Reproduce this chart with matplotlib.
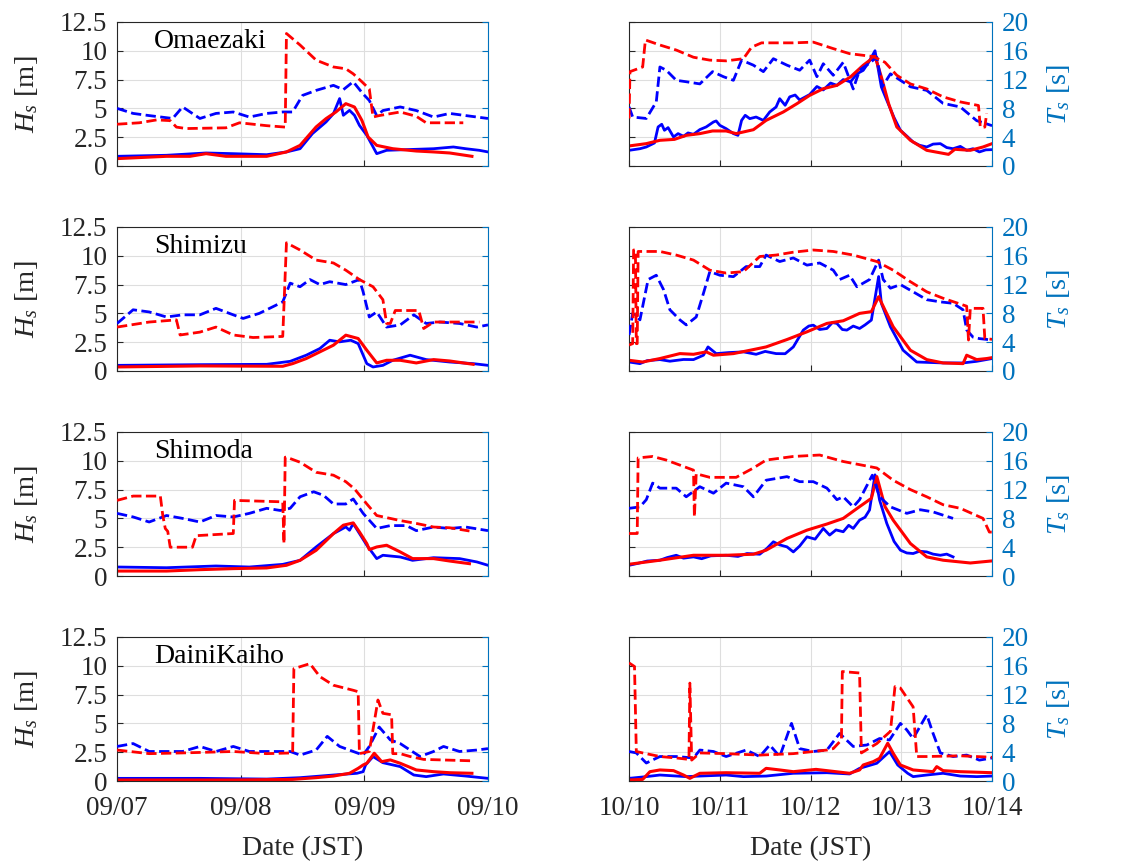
import numpy as np
import pandas as pd
import matplotlib
matplotlib.use('Agg')
import matplotlib.pyplot as plt
import matplotlib.dates as mdates

plt.rcParams['font.family'] = 'Liberation Serif'
plt.rcParams['mathtext.fontset'] = 'custom'
plt.rcParams['mathtext.rm'] = 'Liberation Serif'
plt.rcParams['mathtext.it'] = 'Liberation Serif:italic'

# --- data: time in days from the first tick, Hs in m, Ts in s ---
STATIONS = ['Omaezaki', 'Shimizu', 'Shimoda', 'DainiKaiho']
SEP_START = '2019-09-07'
OCT_START = '2019-10-10'

# Omaezaki, September
oma9_hs_obs_t = [0, 0.40, 0.72, 0.94, 1.21, 1.37, 1.48, 1.58, 1.69, 1.75, 1.80, 1.83, 1.88, 1.92, 1.96, 2.02, 2.10, 2.18, 2.34, 2.56, 2.72, 2.82, 2.93, 3.0]
oma9_hs_obs = [0.84, 0.93, 1.13, 1.07, 0.98, 1.22, 1.50, 2.81, 3.82, 4.54, 5.85, 4.40, 4.83, 4.40, 3.53, 2.66, 1.07, 1.36, 1.42, 1.50, 1.65, 1.50, 1.36, 1.22]
oma9_hs_mod_t = [0, 0.40, 0.59, 0.72, 0.88, 1.21, 1.37, 1.48, 1.61, 1.69, 1.77, 1.85, 1.92, 1.98, 2.03, 2.10, 2.23, 2.42, 2.56, 2.69, 2.87]
oma9_hs_mod = [0.64, 0.84, 0.84, 1.07, 0.84, 0.84, 1.22, 1.79, 3.39, 4.11, 4.69, 5.41, 5.12, 3.96, 2.52, 1.79, 1.50, 1.30, 1.22, 1.13, 0.84]
oma9_ts_obs_t = [0, 0.13, 0.26, 0.45, 0.53, 0.67, 0.80, 0.94, 1.07, 1.21, 1.34, 1.42, 1.50, 1.61, 1.75, 1.83, 1.91, 1.99, 2.04, 2.10, 2.15, 2.29, 2.42, 2.56, 2.69, 2.82, 3.0]
oma9_ts_obs = [8.0, 7.3, 7.0, 6.6, 8.2, 6.6, 7.3, 7.5, 6.8, 7.3, 7.5, 7.5, 9.8, 10.5, 11.2, 10.6, 11.7, 10.0, 9.1, 7.0, 7.7, 8.2, 7.7, 6.8, 7.3, 7.0, 6.6]
oma9_ts_mod_t = [0, 0.18, 0.32, 0.43, 0.48, 0.56, 0.88, 0.99, 1.21, 1.36, 1.37, 1.48, 1.61, 1.75, 1.85, 1.91, 1.98, 2.04, 2.07, 2.12, 2.29, 2.42, 2.50, 2.80]
oma9_ts_mod = [5.8, 6.0, 6.4, 6.3, 5.4, 5.2, 5.3, 6.0, 5.6, 5.4, 18.4, 16.8, 14.7, 13.75, 13.5, 12.8, 11.7, 10.7, 6.8, 7.0, 7.5, 6.9, 6.0, 6.0]

# Omaezaki, October
oma10_hs_obs_t = [0, 0.12, 0.19, 0.28, 0.32, 0.36, 0.39, 0.43, 0.49, 0.54, 0.60, 0.65, 0.71, 0.78, 0.85, 0.93, 0.96, 1.00, 1.07, 1.15, 1.20, 1.24, 1.28, 1.33, 1.40, 1.48, 1.55, 1.62, 1.66, 1.72, 1.77, 1.83, 1.88, 1.99, 2.07, 2.14, 2.22, 2.29, 2.36, 2.44, 2.51, 2.58, 2.64, 2.71, 2.78, 2.84, 2.92, 2.99, 3.06, 3.13, 3.20, 3.28, 3.35, 3.43, 3.50, 3.57, 3.65, 3.72, 3.79, 3.86, 3.93, 4.0]
oma10_hs_obs = [1.36, 1.50, 1.65, 2.0, 3.39, 3.62, 3.10, 3.33, 2.52, 2.81, 2.58, 2.87, 2.75, 3.16, 3.39, 3.82, 3.91, 3.53, 3.24, 2.81, 2.66, 3.96, 4.40, 4.11, 4.25, 3.96, 4.69, 5.12, 5.84, 5.27, 6.0, 6.16, 5.73, 6.2, 6.9, 6.6, 7.2, 7.0, 7.5, 7.3, 8.0, 8.3, 9.0, 10.0, 6.86, 5.7, 4.2, 3.1, 2.6, 2.08, 1.8, 1.65, 1.9, 1.94, 1.6, 1.5, 1.7, 1.36, 1.5, 1.22, 1.4, 1.42]
oma10_hs_mod_t = [0, 0.19, 0.34, 0.50, 0.63, 0.78, 0.92, 1.07, 1.18, 1.37, 1.51, 1.70, 1.85, 1.99, 2.14, 2.29, 2.44, 2.58, 2.71, 2.78, 2.86, 2.95, 3.10, 3.28, 3.52, 3.59, 3.76, 3.90, 4.0]
oma10_hs_mod = [1.74, 1.94, 2.23, 2.31, 2.66, 2.81, 3.04, 3.04, 2.81, 3.15, 3.96, 4.69, 5.41, 6.13, 6.71, 7.0, 7.73, 8.74, 9.52, 7.73, 5.41, 3.39, 2.23, 1.36, 1.01, 1.45, 1.36, 1.65, 1.94]
oma10_ts_obs_t = [0, 0.04, 0.19, 0.30, 0.34, 0.41, 0.52, 0.63, 0.78, 0.92, 1.04, 1.15, 1.24, 1.37, 1.48, 1.59, 1.74, 1.88, 1.99, 2.07, 2.14, 2.25, 2.36, 2.47, 2.54, 2.64, 2.73, 2.79, 2.88, 3.10, 3.28, 3.46, 3.65, 3.83, 4.0]
oma10_ts_obs = [8.2, 6.8, 6.6, 8.9, 13.75, 13.3, 11.9, 11.7, 11.4, 13.1, 12.4, 11.9, 14.7, 14.0, 13.1, 14.9, 14.0, 13.3, 14.7, 12.4, 14.2, 12.6, 14.4, 10.7, 13.3, 14.2, 15.1, 11.0, 12.8, 11.0, 10.5, 8.7, 8.2, 6.3, 5.6]
oma10_ts_mod_t = [0, 0.01, 0.15, 0.18, 0.34, 0.52, 0.71, 0.89, 1.07, 1.26, 1.35, 1.46, 1.81, 2.03, 2.25, 2.43, 2.69, 2.82, 2.95, 3.10, 3.28, 3.46, 3.65, 3.85, 3.87, 3.92, 3.94]
oma10_ts_mod = [6.6, 13.1, 13.75, 17.5, 16.8, 16.1, 15.1, 14.7, 14.6, 14.9, 16.5, 17.1, 17.1, 17.2, 16.3, 15.6, 15.2, 14.4, 12.6, 11.4, 10.7, 9.6, 8.9, 8.4, 5.4, 5.4, 7.3]

# Shimizu, September
shi9_hs_obs_t = [0, 0.67, 1.21, 1.40, 1.53, 1.64, 1.72, 1.80, 1.89, 1.95, 2.02, 2.07, 2.15, 2.23, 2.37, 2.50, 2.69, 2.88, 3.0]
shi9_hs_obs = [0.49, 0.55, 0.58, 0.84, 1.37, 1.95, 2.67, 2.53, 2.67, 2.38, 0.64, 0.35, 0.49, 0.93, 1.37, 0.99, 0.78, 0.64, 0.49]
shi9_hs_mod_t = [0, 0.67, 1.34, 1.42, 1.53, 1.64, 1.75, 1.85, 1.95, 2.02, 2.10, 2.18, 2.29, 2.42, 2.56, 2.69, 2.88]
shi9_hs_mod = [0.35, 0.44, 0.41, 0.64, 1.08, 1.66, 2.24, 3.11, 2.82, 1.80, 0.70, 0.93, 0.93, 0.70, 0.99, 0.87, 0.58]
shi9_ts_obs_t = [0, 0.13, 0.26, 0.40, 0.53, 0.67, 0.80, 0.94, 1.02, 1.15, 1.21, 1.34, 1.40, 1.48, 1.56, 1.64, 1.72, 1.85, 1.96, 1.99, 2.04, 2.10, 2.18, 2.29, 2.40, 2.50, 2.61, 2.77, 2.91, 3.0]
shi9_ts_obs = [6.6, 8.5, 8.2, 7.5, 7.8, 7.8, 8.7, 7.8, 7.3, 8.0, 8.5, 9.6, 12.2, 11.7, 12.7, 12.0, 12.4, 12.0, 12.7, 11.0, 7.5, 8.2, 6.1, 6.4, 7.8, 6.6, 6.8, 6.6, 6.1, 6.4]
shi9_ts_mod_t = [0, 0.26, 0.48, 0.51, 0.67, 0.80, 0.94, 1.10, 1.34, 1.37, 1.48, 1.61, 1.75, 1.85, 1.96, 2.07, 2.15, 2.18, 2.21, 2.25, 2.44, 2.48, 2.56, 2.93]
shi9_ts_mod = [6.1, 6.8, 7.1, 5.0, 5.4, 6.1, 5.0, 4.65, 4.8, 17.8, 16.8, 15.4, 15.0, 14.0, 12.7, 11.7, 9.9, 6.6, 6.6, 8.4, 8.4, 5.9, 6.8, 6.8]

# Shimizu, October
shi10_hs_obs_t = [0, 0.12, 0.20, 0.34, 0.45, 0.60, 0.71, 0.82, 0.87, 0.96, 1.10, 1.26, 1.40, 1.50, 1.62, 1.72, 1.81, 1.92, 1.98, 2.03, 2.10, 2.18, 2.24, 2.29, 2.35, 2.40, 2.47, 2.54, 2.60, 2.67, 2.75, 2.78, 2.88, 3.02, 3.17, 3.46, 3.68, 3.83, 4.0]
shi10_hs_obs = [0.78, 0.64, 0.90, 0.99, 0.85, 1.00, 0.99, 1.37, 2.09, 1.51, 1.60, 1.66, 1.45, 1.70, 1.51, 1.50, 2.09, 3.55, 3.90, 3.98, 3.60, 3.69, 4.20, 4.13, 3.60, 3.55, 3.90, 3.69, 4.00, 4.42, 8.20, 5.87, 3.84, 1.80, 0.78, 0.70, 0.70, 0.84, 1.08]
shi10_hs_mod_t = [0, 0.15, 0.34, 0.56, 0.71, 0.85, 0.93, 1.15, 1.37, 1.51, 1.74, 1.96, 2.18, 2.36, 2.54, 2.67, 2.75, 2.82, 2.91, 3.10, 3.28, 3.46, 3.68, 3.72, 3.83, 3.94, 4.0]
shi10_hs_mod = [0.93, 0.78, 1.08, 1.51, 1.45, 1.66, 1.37, 1.51, 1.86, 2.09, 2.73, 3.40, 4.13, 4.36, 5.00, 5.15, 6.45, 5.29, 3.84, 1.80, 0.99, 0.70, 0.64, 1.37, 0.99, 1.08, 1.16]
shi10_ts_obs_t = [0, 0.04, 0.12, 0.21, 0.30, 0.38, 0.45, 0.56, 0.63, 0.74, 0.82, 0.89, 1.00, 1.15, 1.29, 1.44, 1.51, 1.66, 1.81, 1.96, 2.10, 2.25, 2.32, 2.43, 2.51, 2.58, 2.65, 2.75, 2.80, 2.88, 2.99, 3.13, 3.28, 3.43, 3.57, 3.68, 3.72, 3.79, 3.86, 4.0]
shi10_ts_obs = [5.0, 8.0, 7.1, 12.7, 13.3, 11.3, 8.5, 7.1, 6.4, 7.5, 10.8, 13.8, 13.3, 13.1, 14.5, 14.5, 16.1, 15.2, 15.7, 14.7, 15.0, 14.0, 12.7, 13.3, 11.7, 12.2, 12.7, 15.4, 12.7, 11.5, 12.0, 11.0, 9.9, 9.6, 9.4, 8.5, 5.7, 4.7, 4.5, 4.3]
shi10_ts_mod_t = [0, 0.04, 0.05, 0.07, 0.08, 0.09, 0.10, 0.34, 0.52, 0.71, 0.89, 1.07, 1.26, 1.44, 1.62, 1.81, 2.03, 2.25, 2.47, 2.73, 2.91, 3.10, 3.28, 3.46, 3.72, 3.74, 3.76, 3.90, 3.92, 4.0]
shi10_ts_mod = [3.6, 3.8, 16.8, 16.8, 3.8, 3.8, 16.6, 16.6, 16.1, 15.4, 14.0, 13.6, 13.8, 15.9, 16.1, 16.5, 16.8, 16.6, 16.1, 15.2, 14.0, 12.4, 11.0, 10.1, 9.0, 4.3, 8.7, 8.7, 4.5, 4.4]

# Shimoda, September
shd9_hs_obs_t = [0, 0.40, 0.80, 1.07, 1.34, 1.48, 1.61, 1.75, 1.85, 1.88, 1.91, 2.02, 2.10, 2.15, 2.29, 2.39, 2.56, 2.77, 2.91, 3.0]
shd9_hs_obs = [0.78, 0.72, 0.87, 0.78, 1.01, 1.36, 2.52, 3.68, 4.26, 3.97, 4.55, 2.67, 1.51, 1.80, 1.65, 1.36, 1.59, 1.51, 1.22, 0.93]
shd9_hs_mod_t = [0, 0.40, 0.67, 0.94, 1.21, 1.37, 1.48, 1.61, 1.75, 1.83, 1.91, 1.96, 2.02, 2.04, 2.10, 2.18, 2.29, 2.39, 2.56, 2.69, 2.85]
shd9_hs_mod = [0.43, 0.43, 0.55, 0.64, 0.70, 0.93, 1.36, 2.23, 3.68, 4.41, 4.61, 3.83, 2.81, 2.29, 2.52, 2.67, 2.09, 1.51, 1.51, 1.30, 1.07]
shd9_ts_obs_t = [0, 0.13, 0.26, 0.40, 0.53, 0.67, 0.80, 0.94, 1.07, 1.21, 1.32, 1.40, 1.48, 1.59, 1.67, 1.75, 1.85, 1.91, 1.99, 2.10, 2.21, 2.34, 2.42, 2.56, 2.69, 2.82, 3.0]
shd9_ts_obs = [8.7, 8.2, 7.5, 8.4, 8.0, 7.5, 8.4, 8.2, 8.7, 9.4, 9.1, 9.4, 11.0, 11.7, 11.2, 10.0, 10.0, 10.7, 8.7, 6.6, 7.0, 7.0, 6.3, 6.8, 6.6, 6.8, 6.3]
shd9_ts_mod_t = [0, 0.13, 0.35, 0.37, 0.39, 0.41, 0.43, 0.61, 0.64, 0.94, 0.95, 1.34, 1.35, 1.36, 1.37, 1.48, 1.61, 1.75, 1.85, 1.92, 2.02, 2.10, 2.29, 2.42, 2.56, 2.69, 2.85]
shd9_ts_mod = [10.5, 11.1, 11.1, 8.4, 6.6, 6.2, 4.0, 4.0, 5.6, 5.9, 10.5, 10.3, 4.5, 16.5, 16.5, 15.8, 14.4, 14.0, 13.1, 12.1, 10.0, 8.4, 7.7, 7.3, 6.8, 6.7, 6.25]

# Shimoda, October
shd10_hs_obs_t = [0, 0.10, 0.20, 0.34, 0.42, 0.52, 0.60, 0.71, 0.80, 0.90, 1.07, 1.20, 1.30, 1.44, 1.52, 1.59, 1.66, 1.74, 1.81, 1.88, 1.96, 2.05, 2.14, 2.21, 2.28, 2.36, 2.42, 2.47, 2.54, 2.60, 2.65, 2.71, 2.76, 2.84, 2.92, 2.99, 3.06, 3.13, 3.20, 3.28, 3.35, 3.43, 3.50, 3.57]
shd10_hs_obs = [0.93, 1.10, 1.30, 1.37, 1.60, 1.80, 1.55, 1.66, 1.50, 1.75, 1.80, 1.70, 1.95, 1.89, 2.40, 2.97, 2.70, 2.53, 2.09, 2.60, 3.40, 3.20, 4.13, 3.55, 4.00, 3.84, 4.40, 4.13, 4.85, 5.10, 5.73, 8.78, 6.60, 4.56, 3.00, 2.24, 2.00, 1.95, 2.15, 2.09, 1.90, 1.80, 1.90, 1.66]
shd10_hs_mod_t = [0, 0.34, 0.71, 1.07, 1.37, 1.51, 1.74, 1.96, 2.18, 2.36, 2.54, 2.67, 2.73, 2.82, 2.91, 3.10, 3.28, 3.46, 3.76, 4.0]
shd10_hs_mod = [1.02, 1.37, 1.80, 1.80, 1.89, 2.24, 3.26, 3.98, 4.51, 5.0, 6.02, 6.74, 8.63, 6.02, 4.85, 2.82, 1.66, 1.37, 1.13, 1.31]
shd10_ts_obs_t = [0, 0.12, 0.19, 0.26, 0.34, 0.52, 0.63, 0.78, 0.93, 1.07, 1.26, 1.37, 1.51, 1.74, 1.88, 2.03, 2.18, 2.29, 2.36, 2.47, 2.54, 2.68, 2.76, 2.88, 3.06, 3.21, 3.35, 3.57]
shd10_ts_obs = [9.4, 9.6, 10.6, 12.9, 12.2, 12.2, 11.0, 12.4, 11.5, 12.9, 12.4, 11.0, 13.3, 13.8, 13.1, 13.1, 12.2, 10.6, 11.0, 9.6, 10.6, 14.0, 11.0, 9.6, 8.7, 9.2, 8.9, 8.0]
shd10_ts_mod_t = [0, 0.09, 0.10, 0.26, 0.41, 0.71, 0.72, 0.74, 0.89, 1.18, 1.37, 1.51, 1.81, 2.10, 2.36, 2.73, 2.91, 3.10, 3.28, 3.46, 3.65, 3.90, 3.97, 4.0]
shd10_ts_mod = [5.9, 5.9, 16.4, 16.6, 16.1, 14.7, 8.2, 14.2, 13.7, 13.7, 15.0, 16.1, 16.6, 16.8, 15.9, 15.0, 13.3, 12.0, 11.0, 9.9, 9.4, 8.0, 6.1, 6.1]

# DainiKaiho, September
dai9_hs_obs_t = [0, 0.67, 1.21, 1.48, 1.75, 1.94, 1.99, 2.01, 2.07, 2.15, 2.29, 2.40, 2.50, 2.64, 2.82, 3.0]
dai9_hs_obs = [0.23, 0.23, 0.17, 0.29, 0.52, 0.67, 0.81, 1.39, 2.12, 1.59, 1.25, 0.52, 0.38, 0.61, 0.43, 0.23]
dai9_hs_mod_t = [0, 0.94, 1.42, 1.61, 1.75, 1.88, 1.95, 1.99, 2.02, 2.08, 2.14, 2.21, 2.29, 2.42, 2.56, 2.69, 2.87]
dai9_hs_mod = [0.09, 0.09, 0.14, 0.29, 0.43, 0.67, 1.10, 1.39, 1.54, 2.41, 1.68, 1.83, 1.54, 0.96, 0.81, 0.72, 0.67]
dai9_ts_obs_t = [0, 0.13, 0.26, 0.53, 0.67, 0.80, 0.94, 1.07, 1.21, 1.40, 1.48, 1.61, 1.70, 1.80, 1.91, 1.99, 2.04, 2.12, 2.21, 2.29, 2.37, 2.45, 2.56, 2.64, 2.77, 2.91, 3.0]
dai9_ts_obs = [4.8, 5.2, 4.1, 4.1, 4.8, 4.1, 4.8, 4.1, 4.1, 4.1, 3.6, 4.3, 6.2, 4.8, 4.1, 3.6, 4.8, 7.5, 5.7, 5.2, 4.3, 3.4, 4.1, 4.8, 4.1, 4.3, 4.5]
dai9_ts_mod_t = [0, 0.26, 0.53, 0.94, 1.21, 1.42, 1.43, 1.56, 1.64, 1.75, 1.91, 1.95, 1.96, 2.04, 2.11, 2.15, 2.22, 2.23, 2.29, 2.37, 2.48, 2.88]
dai9_ts_mod = [4.3, 3.8, 3.9, 4.1, 3.8, 3.9, 15.6, 16.3, 14.5, 13.3, 12.6, 12.4, 3.8, 4.1, 11.25, 9.4, 9.2, 3.8, 3.8, 3.4, 3.0, 2.8]

# DainiKaiho, October
dai10_hs_obs_t = [0, 0.19, 0.34, 0.63, 0.78, 1.07, 1.26, 1.51, 1.81, 2.18, 2.43, 2.54, 2.73, 2.87, 2.96, 3.07, 3.13, 3.28, 3.46, 3.65, 3.83, 4.0]
dai10_hs_obs = [0.23, 0.38, 0.52, 0.38, 0.43, 0.52, 0.38, 0.43, 0.67, 0.72, 0.61, 1.10, 1.54, 2.55, 1.39, 0.67, 0.38, 0.52, 0.67, 0.43, 0.38, 0.43]
dai10_hs_mod_t = [0, 0.15, 0.23, 0.34, 0.49, 0.60, 0.67, 0.78, 1.07, 1.44, 1.51, 1.66, 1.81, 2.06, 2.18, 2.43, 2.54, 2.58, 2.69, 2.76, 2.85, 2.91, 2.99, 3.13, 3.35, 3.39, 3.46, 3.65, 4.0]
dai10_hs_mod = [0.09, 0.14, 0.81, 0.96, 0.90, 0.52, 0.23, 0.67, 0.72, 0.67, 1.10, 0.96, 0.81, 1.01, 0.90, 0.67, 0.96, 1.39, 1.68, 1.97, 3.28, 2.41, 1.39, 0.96, 0.81, 1.25, 0.90, 0.81, 0.72]
dai10_ts_obs_t = [0, 0.08, 0.19, 0.34, 0.52, 0.71, 0.78, 0.93, 1.07, 1.29, 1.44, 1.55, 1.66, 1.79, 1.88, 2.03, 2.18, 2.32, 2.47, 2.62, 2.76, 2.87, 2.99, 3.06, 3.13, 3.28, 3.35, 3.43, 3.57, 3.72, 3.86, 4.0]
dai10_ts_obs = [4.1, 3.9, 2.5, 3.4, 3.4, 3.2, 4.3, 4.1, 3.4, 4.3, 3.4, 5.0, 3.4, 8.0, 4.5, 4.1, 4.3, 6.6, 4.8, 5.0, 5.9, 5.7, 8.0, 7.1, 5.9, 9.2, 6.6, 3.9, 3.4, 3.6, 2.9, 3.2]
dai10_ts_mod_t = [0, 0.06, 0.08, 0.15, 0.34, 0.52, 0.66, 0.67, 0.69, 0.78, 1.07, 1.44, 1.81, 2.18, 2.25, 2.34, 2.35, 2.54, 2.56, 2.73, 2.88, 2.93, 2.99, 3.13, 3.17, 3.28, 3.65, 4.0]
dai10_ts_mod = [16.4, 15.9, 4.1, 3.9, 3.4, 3.2, 3.0, 13.6, 2.9, 3.9, 3.8, 3.6, 3.8, 4.3, 4.5, 5.7, 15.2, 15.0, 3.9, 5.2, 6.9, 13.1, 12.9, 10.3, 3.4, 3.4, 3.5, 3.3]

HS_TICKS = [0, 2.5, 5, 7.5, 10, 12.5]
HS_TICKLABELS = ['0', '2.5', '5', '7.5', '10', '12.5']
TS_TICKS = [0, 4, 8, 12, 16, 20]

BLUE = '#0000FF'
RED = '#FF0000'
AXBLUE = '#0072BD'
DARK = '#262626'
FS = 19.5

# axes boxes in figure fractions
ROW_BOTTOMS = [0.8081, 0.5711, 0.3341, 0.0971]
ROW_H = 0.1665
COL_X = [0.1034, 0.5557]
COL_W = [0.3277, 0.3207]


def to_dates(start, t):
    return pd.Timestamp(start) + pd.to_timedelta(np.asarray(t, dtype=float), unit='D')


def draw_panel(fig, row, col, start, ndays, series, name=None):
    ax = fig.add_axes([COL_X[col], ROW_BOTTOMS[row], COL_W[col], ROW_H])
    ax2 = ax.twinx()

    (hs_obs_t, hs_obs), (hs_mod_t, hs_mod), (ts_obs_t, ts_obs), (ts_mod_t, ts_mod) = series
    ax.plot(to_dates(start, hs_obs_t), hs_obs, '-', color=BLUE, lw=2.0)
    ax.plot(to_dates(start, hs_mod_t), hs_mod, '-', color=RED, lw=2.2)
    ax2.plot(to_dates(start, ts_obs_t), ts_obs, '--', color=BLUE, lw=2.0)
    ax2.plot(to_dates(start, ts_mod_t), ts_mod, '--', color=RED, lw=2.0)

    x0 = pd.Timestamp(start)
    ax.set_xlim(x0, x0 + pd.Timedelta(days=ndays))
    ax.set_xticks([x0 + pd.Timedelta(days=d) for d in range(ndays + 1)])
    ax.xaxis.set_major_formatter(mdates.DateFormatter('%m/%d'))

    ax.set_ylim(0, 12.5)
    ax.set_yticks(HS_TICKS)
    ax2.set_ylim(0, 20)
    ax2.set_yticks(TS_TICKS)

    ax.grid(True, color='#dedede', lw=0.8)
    ax.set_axisbelow(True)

    for sp in ['left', 'top', 'bottom']:
        ax.spines[sp].set_color(DARK)
        ax.spines[sp].set_linewidth(0.8)
        ax2.spines[sp].set_visible(False)
    ax.spines['right'].set_visible(False)
    ax2.spines['right'].set_color(AXBLUE)
    ax2.spines['right'].set_linewidth(0.8)

    ax.tick_params(axis='y', direction='in', length=4, width=0.8, colors=DARK,
                   labelsize=FS, pad=7)
    ax.tick_params(axis='x', direction='in', length=4, width=0.8, colors=DARK,
                   labelsize=FS, pad=11)
    ax2.tick_params(axis='y', direction='in', length=4, width=0.8, colors=AXBLUE,
                    labelsize=FS, pad=7)

    if col == 0:
        ax.set_yticklabels(HS_TICKLABELS)
        ax2.set_yticklabels([])
        ax.set_ylabel('$H_s$ [m]', fontsize=20.5, color=DARK)
        ax.yaxis.set_label_coords(-0.207, 0.5)
    else:
        ax.set_yticklabels([])
        ax2.set_yticklabels([str(v) for v in TS_TICKS])
        ax2.set_ylabel('$T_s$ [s]', fontsize=20.5, color=AXBLUE)
        ax2.yaxis.set_label_coords(1.146, 0.5)

    if row == 3:
        ax.set_xlabel('Date (JST)', fontsize=20, color=DARK, labelpad=10.5)
    else:
        ax.set_xticklabels([])

    if name:
        ax.text(0.10, 0.82, name, transform=ax.transAxes, fontsize=20,
                va='baseline', ha='left', color='black')


fig = plt.figure(figsize=(11.32, 8.65), dpi=100)

sep_series = [
    [(oma9_hs_obs_t, oma9_hs_obs), (oma9_hs_mod_t, oma9_hs_mod), (oma9_ts_obs_t, oma9_ts_obs), (oma9_ts_mod_t, oma9_ts_mod)],
    [(shi9_hs_obs_t, shi9_hs_obs), (shi9_hs_mod_t, shi9_hs_mod), (shi9_ts_obs_t, shi9_ts_obs), (shi9_ts_mod_t, shi9_ts_mod)],
    [(shd9_hs_obs_t, shd9_hs_obs), (shd9_hs_mod_t, shd9_hs_mod), (shd9_ts_obs_t, shd9_ts_obs), (shd9_ts_mod_t, shd9_ts_mod)],
    [(dai9_hs_obs_t, dai9_hs_obs), (dai9_hs_mod_t, dai9_hs_mod), (dai9_ts_obs_t, dai9_ts_obs), (dai9_ts_mod_t, dai9_ts_mod)],
]
oct_series = [
    [(oma10_hs_obs_t, oma10_hs_obs), (oma10_hs_mod_t, oma10_hs_mod), (oma10_ts_obs_t, oma10_ts_obs), (oma10_ts_mod_t, oma10_ts_mod)],
    [(shi10_hs_obs_t, shi10_hs_obs), (shi10_hs_mod_t, shi10_hs_mod), (shi10_ts_obs_t, shi10_ts_obs), (shi10_ts_mod_t, shi10_ts_mod)],
    [(shd10_hs_obs_t, shd10_hs_obs), (shd10_hs_mod_t, shd10_hs_mod), (shd10_ts_obs_t, shd10_ts_obs), (shd10_ts_mod_t, shd10_ts_mod)],
    [(dai10_hs_obs_t, dai10_hs_obs), (dai10_hs_mod_t, dai10_hs_mod), (dai10_ts_obs_t, dai10_ts_obs), (dai10_ts_mod_t, dai10_ts_mod)],
]

for i, name in enumerate(STATIONS):
    draw_panel(fig, i, 0, SEP_START, 3, sep_series[i], name=name)
    draw_panel(fig, i, 1, OCT_START, 4, oct_series[i])

fig.savefig('out.png', dpi=100)
